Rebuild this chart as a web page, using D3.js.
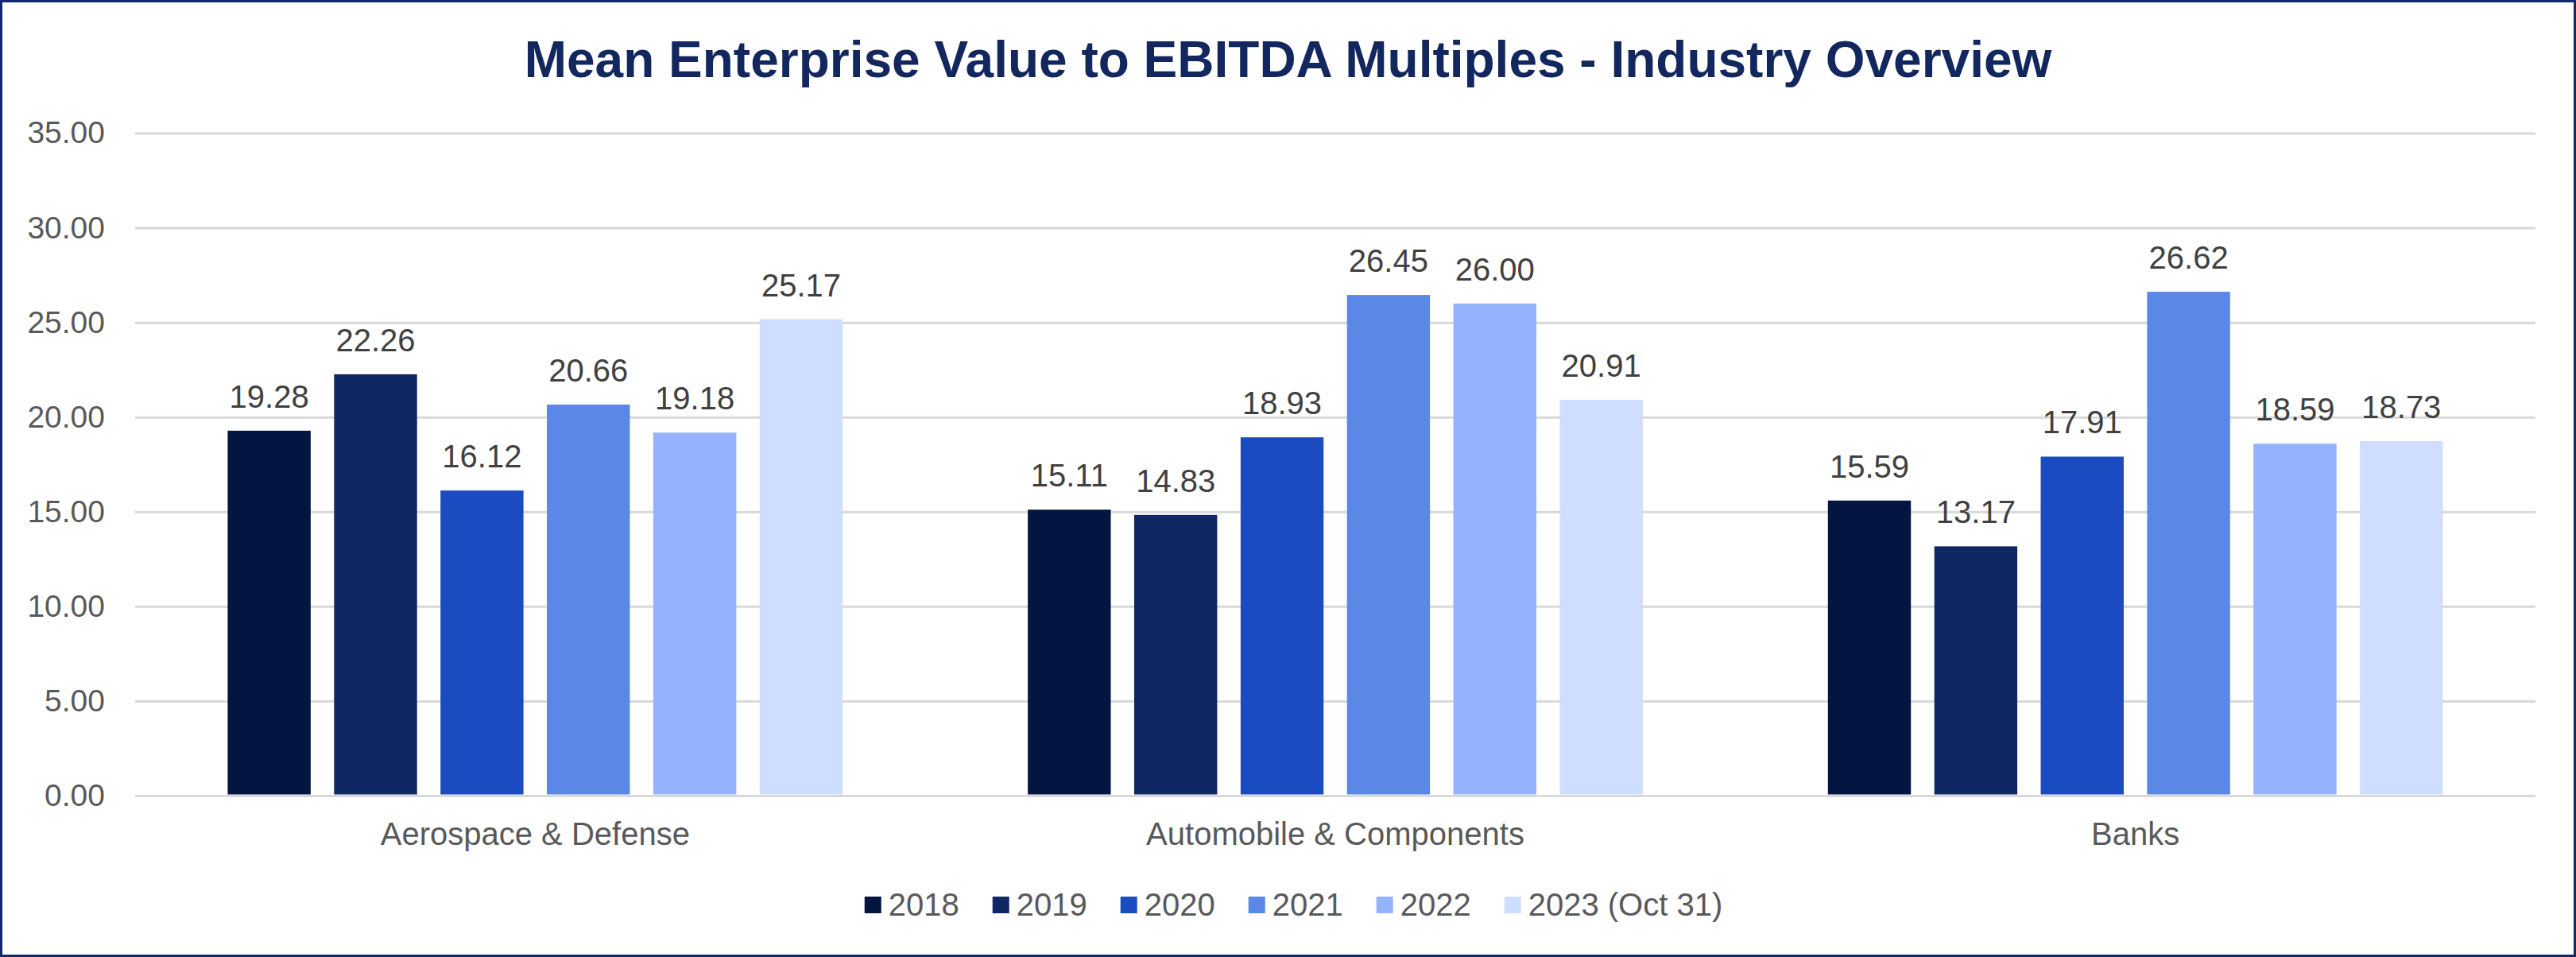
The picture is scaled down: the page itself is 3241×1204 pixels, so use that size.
<!DOCTYPE html>
<html>
<head>
<meta charset="utf-8">
<script src="https://cdn.jsdelivr.net/npm/d3@7"></script>
<style>
  body { margin: 0; background: #fff; }
  svg { display: block; font-family: "Liberation Sans", Arial, sans-serif; }
</style>
</head>
<body>
<svg id="chart"></svg>
<script>
const categories = ["Aerospace & Defense", "Automobile & Components", "Banks"];
const years = ["2018", "2019", "2020", "2021", "2022", "2023 (Oct 31)"];
const values2018 = [19.28, 15.11, 15.59];
const values2019 = [22.26, 14.83, 13.17];
const values2020 = [16.12, 18.93, 17.91];
const values2021 = [20.66, 26.45, 26.62];
const values2022 = [19.18, 26.00, 18.59];
const values2023 = [25.17, 20.91, 18.73];
const yTicks = [0, 5, 10, 15, 20, 25, 30, 35];
const colors = ["#031540", "#0f2864", "#1b4bc1", "#5b87e6", "#93b3fd", "#cfddfe"];

const seriesValues = [values2018, values2019, values2020, values2021, values2022, values2023];

const W = 3241, H = 1204;
const plot = { left: 170, right: 3190, top: 167.5, bottom: 1001 };

const svg = d3.select("#chart").attr("width", W).attr("height", H);

svg.append("rect").attr("x", 1.5).attr("y", 1.5)
  .attr("width", W - 3).attr("height", H - 3)
  .attr("fill", "#fff").attr("stroke", "#13296a").attr("stroke-width", 3);

svg.append("text")
  .attr("x", W / 2).attr("y", 97)
  .attr("text-anchor", "middle")
  .attr("font-size", 64).attr("font-weight", "bold")
  .attr("fill", "#13275f")
  .text("Mean Enterprise Value to EBITDA Multiples - Industry Overview");

const y = d3.scaleLinear().domain([0, 35]).range([plot.bottom, plot.top]);
const x0 = d3.scaleBand().domain(categories).range([plot.left, plot.right]);
const x1 = d3.scaleBand().domain(years).range([0, x0.bandwidth()])
  .paddingInner(0.22).paddingOuter(0.87);

// gridlines + y labels
const yAxis = d3.axisLeft(y).tickValues(yTicks).tickSize(-(plot.right - plot.left))
  .tickPadding(38).tickFormat(d3.format(".2f"));
const gy = svg.append("g").attr("transform", `translate(${plot.left},0)`).call(yAxis);
gy.select(".domain").remove();
gy.selectAll(".tick line").attr("stroke", "#d9d9d9").attr("stroke-width", 3);
gy.selectAll(".tick text").attr("font-size", 39).attr("fill", "#595959")
  .attr("font-family", "Liberation Sans, Arial, sans-serif");

// bars
const groups = svg.append("g").selectAll("g")
  .data(categories).enter().append("g")
  .attr("transform", d => `translate(${x0(d)},0)`);

groups.selectAll("rect")
  .data((c, ci) => years.map((yr, si) => ({ yr, si, v: seriesValues[si][ci] })))
  .enter().append("rect")
  .attr("x", d => x1(d.yr))
  .attr("width", x1.bandwidth())
  .attr("y", d => y(d.v))
  .attr("height", d => y(0) - 1.5 - y(d.v))
  .attr("fill", d => colors[d.si]);

groups.selectAll("text.val")
  .data((c, ci) => years.map((yr, si) => ({ yr, si, v: seriesValues[si][ci] })))
  .enter().append("text").attr("class", "val")
  .attr("x", d => x1(d.yr) + x1.bandwidth() / 2)
  .attr("y", d => y(d.v) - 29)
  .attr("text-anchor", "middle")
  .attr("font-size", 40).attr("fill", "#404040")
  .text(d => d.v.toFixed(2));

// category axis
const xAxis = d3.axisBottom(x0).tickSize(0).tickPadding(0);
const gx = svg.append("g").attr("transform", `translate(0,${plot.bottom})`).call(xAxis);
gx.select(".domain").remove();
gx.selectAll(".tick text").attr("font-size", 40).attr("fill", "#595959")
  .attr("font-family", "Liberation Sans, Arial, sans-serif")
  .attr("dy", null).attr("y", 62);

// legend
const legend = svg.append("g");
let lx = 0;
years.forEach((yr, i) => {
  const item = legend.append("g").attr("transform", `translate(${lx},0)`);
  item.append("rect").attr("x", 0).attr("y", 1128).attr("width", 21).attr("height", 21)
    .attr("fill", colors[i]);
  const t = item.append("text").attr("x", 30).attr("y", 1151.5)
    .attr("font-size", 40).attr("fill", "#595959").text(yr);
  lx += 30 + t.node().getComputedTextLength() + 42;
});
const legendW = lx - 42;
legend.attr("transform", `translate(${(W - legendW) / 2 + 7},0)`);
</script>
</body>
</html>
